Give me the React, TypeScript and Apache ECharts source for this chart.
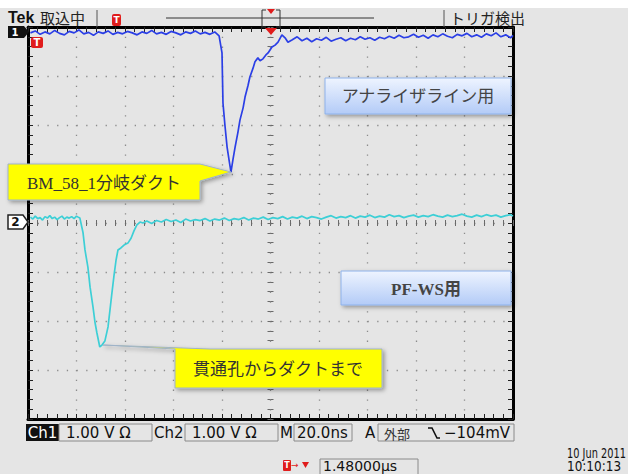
import React, { useEffect, useRef } from "react";
import * as echarts from "echarts";

// Time relative to trigger (ns), vertical position in screen divisions (1.00 V/div)
const CH1_PRE: number[][] = [
  [-99, 3.88], [-97, 3.92], [-95, 3.85], [-93, 3.9], [-91, 3.86], [-89, 3.93], [-87, 3.87], [-85, 3.84],
  [-83, 3.91], [-81, 3.88], [-79, 3.94], [-77, 3.86], [-75, 3.89], [-73, 3.83], [-71, 3.9], [-69, 3.87],
  [-67, 3.92], [-65, 3.85], [-63, 3.89], [-61, 3.86], [-59, 3.91], [-57, 3.88], [-55, 3.84], [-53, 3.9],
  [-51, 3.87], [-49, 3.93], [-47, 3.86], [-45, 3.89], [-43, 3.85], [-41, 3.91], [-39, 3.88], [-37, 3.84],
  [-35, 3.9], [-33, 3.87], [-31, 3.92], [-29, 3.86], [-27, 3.89], [-25, 3.85], [-23, 3.9],
];
const CH1_PULSE: number[][] = [
  [-21.2, 3.82], [-20.0, 3.47], [-19.6, 2.45], [-18.8, 2.0], [-17.9, 1.55], [-17.1, 1.29], [-16.3, 1.04],
  [-15.5, 1.29], [-14.6, 1.55], [-13.4, 1.86], [-12.6, 2.1], [-11.3, 2.35], [-10.5, 2.57], [-9.3, 2.8],
  [-8.5, 2.98], [-7.2, 3.16], [-6.4, 3.29], [-5.2, 3.37], [-4.3, 3.31], [-3.1, 3.35], [-1.9, 3.43],
  [-1.0, 3.47], [0.6, 3.59], [1.9, 3.63], [3.1, 3.69], [4.7, 3.84], [6.0, 3.78], [7.2, 3.69],
];
const CH1_POST: number[][] = [
  [9, 3.74], [11, 3.8], [13, 3.72], [15, 3.77], [17, 3.7], [19, 3.76], [21, 3.73], [23, 3.79], [25, 3.71],
  [27, 3.75], [29, 3.78], [31, 3.72], [33, 3.77], [35, 3.74], [37, 3.8], [39, 3.75], [41, 3.78], [43, 3.73],
  [45, 3.79], [47, 3.76], [49, 3.81], [51, 3.77], [53, 3.83], [55, 3.78], [57, 3.8], [59, 3.85], [61, 3.79],
  [63, 3.83], [65, 3.77], [67, 3.84], [69, 3.8], [71, 3.86], [73, 3.81], [75, 3.78], [77, 3.85], [79, 3.82],
  [81, 3.87], [83, 3.8], [85, 3.84], [87, 3.79], [89, 3.86], [91, 3.82], [93, 3.88], [95, 3.8], [97, 3.84],
  [99, 3.78], [100, 3.83],
];

const CH2_PRE: number[][] = [
  [-99, 0.12], [-98, 0.08], [-97, 0.14], [-96, 0.09], [-95, 0.11], [-94, 0.06], [-93, 0.13], [-92, 0.1],
  [-91, 0.15], [-90, 0.09], [-89, 0.12], [-88, 0.07], [-87, 0.11], [-86, 0.14], [-85, 0.08], [-84, 0.12],
  [-83, 0.1], [-82, 0.13], [-81, 0.09], [-80, 0.14], [-79, 0.11],
];
const CH2_PULSE: number[][] = [
  [-78.6, 0.1], [-77.3, -0.2], [-76.5, -0.55], [-75.3, -0.9], [-74.4, -1.31], [-73.2, -1.71], [-72.4, -2.02],
  [-71.6, -2.24], [-70.4, -2.53], [-69.5, -2.49], [-68.3, -2.41], [-67.0, -2.12], [-66.2, -1.78],
  [-65.4, -1.43], [-64.5, -1.06], [-63.7, -0.76], [-62.9, -0.55], [-61.7, -0.51], [-60.4, -0.45],
  [-58.8, -0.41], [-57.5, -0.31], [-56.3, -0.16], [-55.1, -0.04], [-53.8, 0.02], [-52.6, 0.0],
];
const CH2_POST: number[][] = [
  [-51, 0.04], [-49, -0.01], [-47, 0.05], [-45, 0.02], [-43, 0.07], [-41, 0.03], [-39, 0.06], [-37, 0.01],
  [-35, 0.08], [-33, 0.04], [-31, 0.07], [-29, 0.05], [-27, 0.09], [-25, 0.04], [-23, 0.08], [-21, 0.06],
  [-19, 0.1], [-17, 0.05], [-15, 0.09], [-13, 0.07], [-11, 0.11], [-9, 0.06], [-7, 0.1], [-5, 0.08],
  [-3, 0.12], [-1, 0.07], [1, 0.11], [3, 0.09], [5, 0.13], [7, 0.08], [9, 0.12], [11, 0.1], [13, 0.14],
  [15, 0.09], [17, 0.13], [19, 0.11], [21, 0.08], [23, 0.12], [25, 0.15], [27, 0.1], [29, 0.13], [31, 0.11],
  [33, 0.15], [35, 0.1], [37, 0.14], [39, 0.12], [41, 0.16], [43, 0.11], [45, 0.14], [47, 0.12], [49, 0.17],
  [51, 0.13], [53, 0.15], [55, 0.11], [57, 0.14], [59, 0.16], [61, 0.12], [63, 0.15], [65, 0.13], [67, 0.17],
  [69, 0.14], [71, 0.12], [73, 0.16], [75, 0.13], [77, 0.15], [79, 0.18], [81, 0.14], [83, 0.12], [85, 0.16],
  [87, 0.13], [89, 0.17], [91, 0.14], [93, 0.16], [95, 0.12], [97, 0.15], [99, 0.17], [100, 0.14],
];

const X_RANGE = [-100, 100];
const X_STEP = 20; // 20.0 ns/div
const Y_RANGE = [-4, 4];
const Y_STEP = 1; // 1.00 V/div

const HEADER_LEFT = ["Tek", "取込中"];
const HEADER_RIGHT = "トリガ検出";
const STATUS = {
  ch1: "Ch1", ch1Scale: "1.00 V Ω", ch2: "Ch2", ch2Scale: "1.00 V Ω",
  m: "M", time: "20.0ns", a: "A", src: "外部", level: "−104mV",
  date: "10 Jun 2011", clock: "10:10:13", trigPos: "1.48000µs",
};
const LABELS = {
  callout1: "BM_58_1分岐ダクト",
  callout2: "貫通孔からダクトまで",
  box1: "アナライザライン用",
  box2: "PF-WS用",
};

const FONT_UI = "'DejaVu Sans', sans-serif";
const FONT_JP = "'Noto Sans CJK JP', sans-serif";
const FONT_SERIF = "'Liberation Serif', 'Noto Sans CJK JP', serif";
const RED = "#e01c1c";

const GRID = { left: 28, top: 27, width: 485, height: 392 };

function txt(x: number, y: number, text: string, o: any = {}) {
  return {
    type: "text",
    x,
    y,
    z: 100,
    scaleX: o.scaleX || 1,
    style: {
      text,
      fill: o.fill || "#111",
      font: o.font || `15px ${FONT_UI}`,
      align: o.align || "left",
      verticalAlign: "middle",
      textAlign: o.align || "left",
      textVerticalAlign: "middle",
    },
  };
}

export default function App() {
  const ref = useRef<HTMLDivElement>(null);
  useEffect(() => {
    if (!ref.current) return;
    const chart = echarts.init(ref.current, undefined, { renderer: "svg" });

    const dotted = (period: number) => ({ color: "#8c8c8c", width: 1.3, type: [1.3, period - 1.3] });
    const hidden = { show: false };
    const borderAxis = (pos: string, isX: boolean) => ({
      gridIndex: 0,
      type: "value",
      position: pos,
      min: isX ? X_RANGE[0] : Y_RANGE[0],
      max: isX ? X_RANGE[1] : Y_RANGE[1],
      interval: isX ? X_STEP : Y_STEP,
      axisLine: { show: true, onZero: false, lineStyle: { color: "#000", width: 3 } },
      axisTick: { show: true, inside: true, length: 5, lineStyle: { color: "#222", width: 1 } },
      minorTick: { show: true, splitNumber: 5, length: 5, lineStyle: { color: "#222", width: 1 } },
      axisLabel: hidden,
      splitLine:
        pos === "bottom" || pos === "left"
          ? { show: true, lineStyle: dotted(isX ? GRID.height / 40 : GRID.width / 50) }
          : hidden,
    });
    const centerAxis = (grid: number, isX: boolean, inside: boolean) => ({
      gridIndex: grid,
      type: "value",
      min: isX ? X_RANGE[0] : Y_RANGE[0],
      max: isX ? X_RANGE[1] : Y_RANGE[1],
      interval: isX ? X_STEP : Y_STEP,
      axisLine: { show: true, onZero: true, lineStyle: { color: "rgba(0,0,0,0)" } },
      axisTick: { show: true, inside, length: 3, lineStyle: { color: "#6a6a6a", width: 1 } },
      minorTick: { show: true, splitNumber: 5, length: 3, lineStyle: { color: "#6a6a6a", width: 1 } },
      axisLabel: hidden,
      splitLine: hidden,
    });

    const callout1 = [[8, 164], [200, 164], [231, 172], [200, 181], [200, 200], [8, 200]];
    const callout2 = [[175, 349], [103, 345], [210, 349], [382, 349], [382, 388], [175, 388]];
    const shadow = { shadowBlur: 4, shadowOffsetX: 2, shadowOffsetY: 2, shadowColor: "rgba(0,0,0,0.35)" };
    const blueFill = new echarts.graphic.LinearGradient(0, 0, 0, 1, [
      { offset: 0, color: "#eef4ff" },
      { offset: 1, color: "#b3cbf7" },
    ]);

    const graphic: any[] = [
      { type: "rect", z: 100, shape: { x: 0, y: 0, width: 628, height: 8 }, style: { fill: "#fff" } },
      // header
      txt(8, 17, HEADER_LEFT[0], { font: `bold 16px 'Liberation Sans', sans-serif` }),
      txt(40, 17, HEADER_LEFT[1], { font: `15px ${FONT_JP}`, fill: "#222" }),
      { type: "line", z: 100, shape: { x1: 97, y1: 10, x2: 97, y2: 27 }, style: { stroke: "#555", lineWidth: 1 } },
      { type: "rect", z: 100, shape: { x: 112, y: 14, width: 9, height: 12, r: 2 }, style: { fill: RED } },
      txt(116.5, 20, "T", { font: `bold 9px ${FONT_UI}`, fill: "#fff", align: "center" }),
      { type: "line", z: 100, shape: { x1: 166, y1: 18, x2: 374, y2: 18 }, style: { stroke: "#333", lineWidth: 1 } },
      { type: "polyline", z: 100, shape: { points: [[266, 10], [262, 10], [262, 27], [266, 27]] }, style: { stroke: "#333", fill: "none", lineWidth: 1 } },
      { type: "polyline", z: 100, shape: { points: [[276, 10], [280, 10], [280, 27], [276, 27]] }, style: { stroke: "#333", fill: "none", lineWidth: 1 } },
      { type: "polygon", z: 100, shape: { points: [[267, 9], [275, 9], [271, 14]] }, style: { fill: RED } },
      { type: "line", z: 100, shape: { x1: 444, y1: 10, x2: 444, y2: 27 }, style: { stroke: "#555", lineWidth: 1 } },
      txt(450, 17, HEADER_RIGHT, { font: `15px ${FONT_JP}`, fill: "#222" }),
      // channel / trigger markers
      { type: "polygon", z: 100, shape: { points: [[8, 26], [24, 26], [29, 32], [24, 38], [8, 38]] }, style: { fill: "#111" } },
      txt(15, 32, "1", { font: `bold 10px ${FONT_UI}`, fill: "#fff", align: "center" }),
      { type: "rect", z: 100, shape: { x: 31, y: 37, width: 12, height: 11, r: 2 }, style: { fill: RED } },
      txt(37, 42.5, "T", { font: `bold 10px ${FONT_UI}`, fill: "#fff", align: "center" }),
      { type: "polygon", z: 100, shape: { points: [[265, 28], [277, 28], [271, 35]] }, style: { fill: RED } },
      { type: "polygon", z: 100, shape: { points: [[8, 215], [23, 215], [28, 222], [23, 229], [8, 229]] }, style: { fill: "#fff", stroke: "#222", lineWidth: 1.5 } },
      txt(15.5, 222, "2", { font: `bold 12px ${FONT_UI}`, fill: "#111", align: "center" }),
      // callouts
      { type: "polygon", z: 100, shape: { points: callout1 }, style: { fill: "#ffff00", stroke: "#9fb3c8", lineWidth: 1, ...shadow } },
      txt(27, 183, LABELS.callout1, { font: `17px ${FONT_SERIF}`, fill: "#333" }),
      { type: "polygon", z: 100, shape: { points: callout2 }, style: { fill: "#ffff00", stroke: "#9fb3c8", lineWidth: 1, ...shadow } },
      txt(193, 369, LABELS.callout2, { font: `17px ${FONT_SERIF}`, fill: "#333" }),
      { type: "rect", z: 100, shape: { x: 325, y: 78, width: 186, height: 36 }, style: { fill: blueFill, stroke: "#8eb2ea", lineWidth: 1, ...shadow } },
      txt(418, 96, LABELS.box1, { font: `17px ${FONT_SERIF}`, fill: "#444", align: "center" }),
      { type: "rect", z: 100, shape: { x: 341, y: 271, width: 170, height: 34 }, style: { fill: blueFill, stroke: "#8eb2ea", lineWidth: 1, ...shadow } },
      txt(426, 289, LABELS.box2, { font: `bold 17px ${FONT_SERIF}`, fill: "#444", align: "center" }),
      // status bar
      { type: "rect", z: 100, shape: { x: 26, y: 424, width: 33, height: 17 }, style: { fill: "#111" } },
      txt(42.5, 433, STATUS.ch1, { fill: "#fff", align: "center" }),
      { type: "rect", z: 100, shape: { x: 59, y: 424, width: 93, height: 17 }, style: { fill: "none", stroke: "#8a8a8a", lineWidth: 1 } },
      txt(66, 433, STATUS.ch1Scale),
      txt(154, 433, STATUS.ch2),
      { type: "rect", z: 100, shape: { x: 185, y: 424, width: 93, height: 17 }, style: { fill: "none", stroke: "#8a8a8a", lineWidth: 1 } },
      txt(192, 433, STATUS.ch2Scale),
      txt(280, 433, STATUS.m),
      { type: "rect", z: 100, shape: { x: 294, y: 424, width: 58, height: 17 }, style: { fill: "none", stroke: "#8a8a8a", lineWidth: 1 } },
      txt(297, 433, STATUS.time),
      txt(365, 433, STATUS.a),
      { type: "rect", z: 100, shape: { x: 378, y: 424, width: 136, height: 17 }, style: { fill: "none", stroke: "#8a8a8a", lineWidth: 1 } },
      txt(384, 433, STATUS.src, { font: `13px ${FONT_JP}`, fill: "#333" }),
      { type: "polyline", z: 100, shape: { points: [[428, 428], [432, 428], [437, 438], [440, 438]] }, style: { stroke: "#111", fill: "none", lineWidth: 1.6 } },
      txt(444, 433, STATUS.level),
      txt(567, 453, STATUS.date, { font: `14px ${FONT_UI}`, scaleX: 0.7 }),
      txt(567, 466, STATUS.clock, { font: `14px ${FONT_UI}`, scaleX: 0.86 }),
      { type: "rect", z: 100, shape: { x: 283, y: 460, width: 8, height: 11, r: 1 }, style: { fill: RED } },
      txt(287, 465.5, "T", { font: `bold 8px ${FONT_UI}`, fill: "#fff", align: "center" }),
      txt(291, 465, "→", { font: `9px ${FONT_UI}`, fill: RED }),
      { type: "polygon", z: 100, shape: { points: [[302, 462], [309, 462], [305.5, 468]] }, style: { fill: RED } },
      { type: "rect", z: 100, shape: { x: 320, y: 459, width: 98, height: 16 }, style: { fill: "none", stroke: "#8a8a8a", lineWidth: 1 } },
      txt(323, 466, STATUS.trigPos, { font: `14px ${FONT_UI}` }),
    ];

    chart.setOption({
      animation: false,
      backgroundColor: "#e5e5e5",
      grid: [
        { ...GRID, containLabel: false },
        { ...GRID, containLabel: false },
        { ...GRID, containLabel: false },
      ],
      xAxis: [
        borderAxis("bottom", true),
        borderAxis("top", true),
        { ...centerAxis(1, true, true), position: "bottom" },
        { ...centerAxis(2, true, false), position: "bottom" },
      ],
      yAxis: [
        borderAxis("left", false),
        borderAxis("right", false),
        { ...centerAxis(1, false, true), position: "left" },
        { ...centerAxis(2, false, false), position: "left" },
      ],
      series: [
        {
          type: "line",
          xAxisIndex: 0,
          yAxisIndex: 0,
          data: [...CH1_PRE, ...CH1_PULSE, ...CH1_POST],
          showSymbol: false,
          symbol: "none",
          silent: true,
          lineStyle: { color: "#2b3fe6", width: 1.7 },
          z: 5,
        },
        {
          type: "line",
          xAxisIndex: 0,
          yAxisIndex: 0,
          data: [...CH2_PRE, ...CH2_PULSE, ...CH2_POST],
          showSymbol: false,
          symbol: "none",
          silent: true,
          lineStyle: { color: "#3dcfd6", width: 1.7 },
          z: 5,
        },
      ],
      graphic,
    });
    return () => chart.dispose();
  }, []);
  return (
    <div style={{ position: "fixed", left: 0, top: 0, width: 628, height: 474 }}>
      <div ref={ref} style={{ width: 628, height: 474 }} />
    </div>
  );
}
